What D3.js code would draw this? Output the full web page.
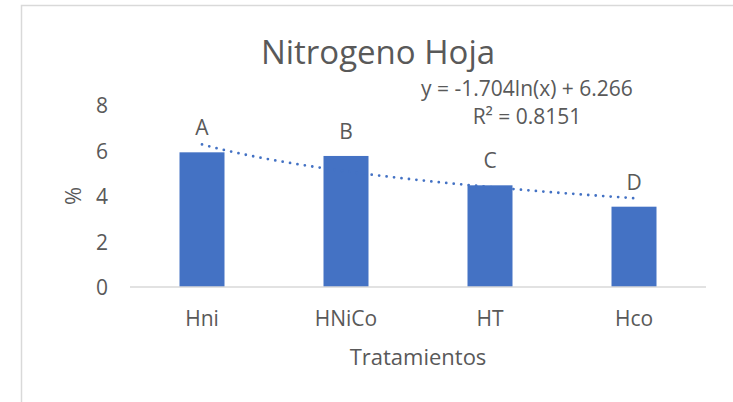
<!DOCTYPE html>
<html>
<head>
<meta charset="utf-8">
<script src="https://cdn.jsdelivr.net/npm/d3@7"></script>
<style>
  body { margin: 0; background: #fff; }
  text { font-family: "Open Sans", "Noto Sans", sans-serif; fill: #595959; }
</style>
</head>
<body>
<div id="chart"></div>
<script>
// data
const categories = ["Hni", "HNiCo", "HT", "Hco"];
const values = [5.92, 5.76, 4.47, 3.53];
const letters = ["A", "B", "C", "D"];
const yTicks = [0, 2, 4, 6, 8];
// trendline y = a*ln(x) + b, as shown on the chart
const trendA = -1.704;
const trendB = 6.266;
const trendText = ["y = -1.704ln(x) + 6.266", "R² = 0.8151"];

const width = 733;
const height = 402;

const svg = d3.select("#chart")
    .append("svg")
    .attr("width", width)
    .attr("height", height);

// chart area border (only top and left edges visible)
svg.append("path")
    .attr("d", "M21.5,402 V5.5 H733")
    .attr("fill", "none")
    .attr("stroke", "#d9d9d9")
    .attr("stroke-width", 1.5);

const x = d3.scaleBand()
    .domain(categories)
    .range([130, 706])
    .paddingInner(0.6875)
    .paddingOuter(0.34375);

const y = d3.scaleLinear()
    .domain([0, 8])
    .range([287, 105]);

// title
svg.append("text")
    .attr("x", 378)
    .attr("y", 51)
    .attr("text-anchor", "middle")
    .attr("dominant-baseline", "central")
    .style("font-size", "33px")
    .text("Nitrogeno Hoja");

// y axis labels
svg.selectAll(".ytick")
    .data(yTicks)
    .enter()
    .append("text")
    .attr("class", "ytick")
    .attr("x", 108)
    .attr("y", d => y(d))
    .attr("text-anchor", "end")
    .attr("dominant-baseline", "central")
    .style("font-size", "21px")
    .text(d => d);

// bars
svg.selectAll(".bar")
    .data(values)
    .enter()
    .append("rect")
    .attr("class", "bar")
    .attr("x", (d, i) => x(categories[i]))
    .attr("width", x.bandwidth())
    .attr("y", d => y(d))
    .attr("height", d => y(0) - y(d))
    .attr("fill", "#4472c4");

// baseline
svg.append("line")
    .attr("x1", 130)
    .attr("x2", 706)
    .attr("y1", y(0))
    .attr("y2", y(0))
    .attr("stroke", "#d9d9d9")
    .attr("stroke-width", 1.5);

// category labels
svg.selectAll(".xtick")
    .data(categories)
    .enter()
    .append("text")
    .attr("class", "xtick")
    .attr("x", d => x(d) + x.bandwidth() / 2)
    .attr("y", 318)
    .attr("text-anchor", "middle")
    .attr("dominant-baseline", "central")
    .style("font-size", "21px")
    .text(d => d);

// letter labels
svg.selectAll(".letter")
    .data(values)
    .enter()
    .append("text")
    .attr("class", "letter")
    .attr("x", (d, i) => x(categories[i]) + x.bandwidth() / 2)
    .attr("y", d => y(d) - 25)
    .attr("text-anchor", "middle")
    .attr("dominant-baseline", "central")
    .style("font-size", "21px")
    .text((d, i) => letters[i]);

// trendline
const xc = d3.scaleLinear()
    .domain([1, categories.length])
    .range([x(categories[0]) + x.bandwidth() / 2,
            x(categories[categories.length - 1]) + x.bandwidth() / 2]);

const trendPts = d3.range(1, categories.length + 0.001, 0.05);
svg.append("path")
    .datum(trendPts)
    .attr("fill", "none")
    .attr("stroke", "#4472c4")
    .attr("stroke-width", 2.8)
    .attr("stroke-linecap", "round")
    .attr("stroke-dasharray", "0 7.5")
    .attr("d", d3.line()
        .x(d => xc(d))
        .y(d => y(trendA * Math.log(d) + trendB)));

// trendline equation
svg.selectAll(".eq")
    .data(trendText)
    .enter()
    .append("text")
    .attr("class", "eq")
    .attr("x", 527)
    .attr("y", (d, i) => 88 + i * 28)
    .attr("text-anchor", "middle")
    .attr("dominant-baseline", "central")
    .style("font-size", "21px")
    .text(d => d);

// axis titles
svg.append("text")
    .attr("x", 418)
    .attr("y", 356)
    .attr("text-anchor", "middle")
    .attr("dominant-baseline", "central")
    .style("font-size", "22px")
    .text("Tratamientos");

svg.append("text")
    .attr("transform", "translate(72,196) rotate(-90)")
    .attr("text-anchor", "middle")
    .attr("dominant-baseline", "central")
    .style("font-size", "22px")
    .text("%");
</script>
</body>
</html>
